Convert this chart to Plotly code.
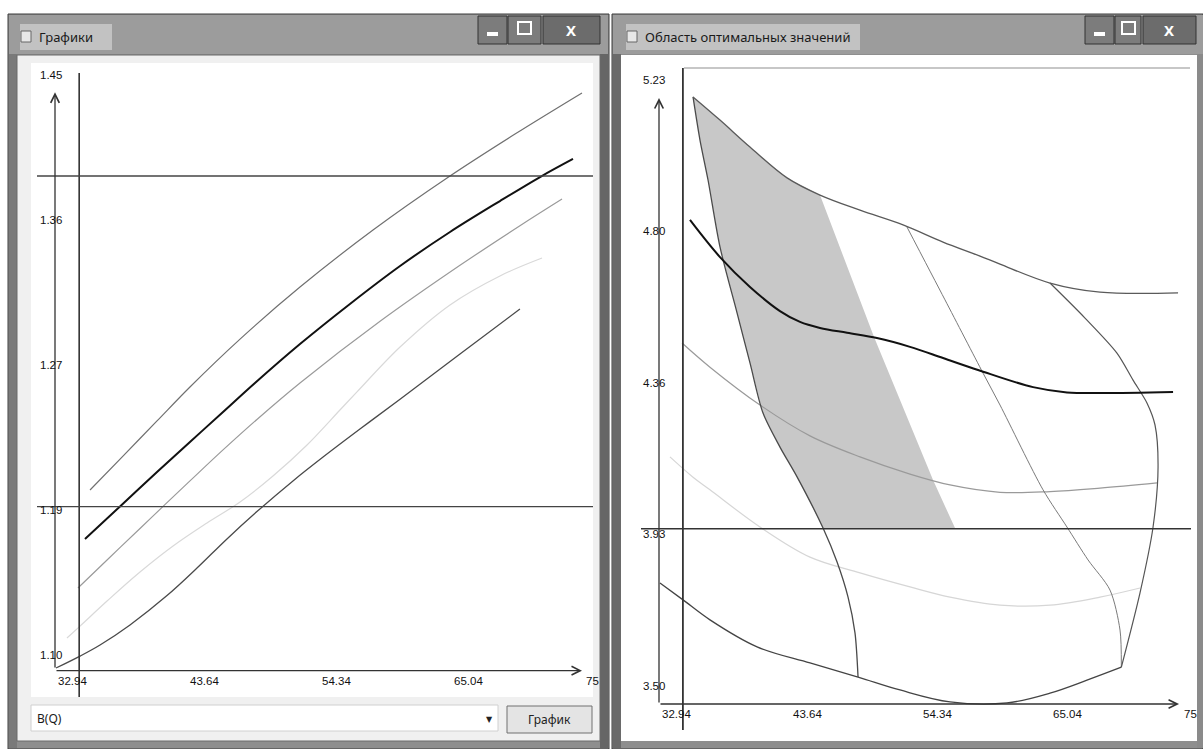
import plotly.graph_objects as go

W, H = 1203, 749

# ---------------- Left chart: B(Q) ----------------
left_x_ticks = [32.94, 43.64, 54.34, 65.04, 75.74]
left_x_text = ["32.94", "43.64", "54.34", "65.04", "75"]
left_y_ticks = [1.10, 1.1875, 1.275, 1.3625, 1.45]
left_y_text = ["1.10", "1.19", "1.27", "1.36", "1.45"]
q_limit = 34.9
left_b_upper = 1.3975
left_b_lower = 1.198

a_q = [35.78, 38.45, 41.21, 43.88, 47.94, 52.80, 58.72, 64.72, 70.23, 75.66]
a_b = [1.208, 1.2285, 1.2497, 1.2702, 1.2991, 1.3305, 1.3649, 1.3963, 1.4228, 1.4476]
b_q = [35.37, 38.21, 41.21, 43.88, 46.56, 49.15, 52.80, 56.85, 60.91, 64.96, 69.01, 72.26, 74.93]
b_b = [1.1785, 1.1981, 1.2189, 1.237, 1.2551, 1.2726, 1.2961, 1.3203, 1.3432, 1.3637, 1.3824, 1.3969, 1.4078]
c_q = [34.80, 37.16, 39.83, 41.70, 43.88, 46.56, 49.31, 52.80, 59.29, 65.77, 70.63, 74.04]
c_b = [1.1489, 1.1658, 1.1848, 1.1981, 1.2135, 1.2322, 1.2506, 1.2726, 1.3098, 1.3436, 1.3675, 1.3836]
d_q = [33.91, 34.97, 37.16, 39.83, 42.51, 45.26, 47.94, 50.61, 53.37, 56.04, 57.42, 60.91, 64.96, 69.01, 72.42]
d_b = [1.1187, 1.1259, 1.141, 1.1585, 1.1742, 1.1881, 1.2008, 1.2165, 1.2352, 1.2563, 1.2672, 1.2943, 1.3197, 1.3372, 1.348]
e_q = [33.02, 34.97, 36.59, 39.02, 42.02, 44.45, 46.88, 49.31, 52.23, 54.67, 57.66, 60.91, 65.77, 70.63]
e_b = [1.1006, 1.1078, 1.1145, 1.1266, 1.1443, 1.1609, 1.1785, 1.195, 1.2135, 1.2279, 1.2448, 1.2628, 1.2901, 1.3172]

# ---------------- Right chart: area of optimal values ----------------
right_x_ticks = [32.94, 43.64, 54.34, 65.04, 75.74]
right_x_text = ["32.94", "43.64", "54.34", "65.04", "75"]
right_y_ticks = [3.50, 3.9325, 4.365, 4.7975, 5.23]
right_y_text = ["3.50", "3.93", "4.36", "4.80", "5.23"]
right_limit = 4.00

r_top_q = [35.73, 37.94, 40.40, 43.44, 46.14, 49.42, 52.95, 56.23, 59.26, 60.90, 65.00, 69.10, 75.50]
r_top_v = [5.232, 5.166, 5.089, 5.001, 4.952, 4.909, 4.867, 4.818, 4.778, 4.755, 4.701, 4.675, 4.673]
r_black_q = [35.48, 37.94, 40.40, 42.86, 44.50, 46.14, 48.36, 50.81, 53.52, 56.23, 59.10, 63.61, 66.39, 69.10, 75.09]
r_black_v = [4.881, 4.775, 4.690, 4.621, 4.590, 4.573, 4.559, 4.544, 4.519, 4.487, 4.453, 4.404, 4.389, 4.387, 4.390]
r_mid_q = [34.83, 37.12, 41.22, 45.32, 49.42, 53.52, 56.80, 60.90, 65.00, 69.10, 73.77]
r_mid_v = [4.530, 4.461, 4.353, 4.265, 4.205, 4.156, 4.125, 4.104, 4.106, 4.116, 4.131]
r_light_q = [33.84, 35.73, 37.12, 41.22, 45.32, 49.42, 53.52, 56.80, 60.90, 65.00, 69.10, 72.38]
r_light_v = [4.205, 4.147, 4.111, 4.005, 3.919, 3.874, 3.834, 3.805, 3.782, 3.782, 3.805, 3.831]
r_bottom_q = [33.02, 34.91, 37.12, 40.98, 45.32, 49.26, 52.70, 56.80, 61.47, 65.00, 68.03, 70.85]
r_bottom_v = [3.845, 3.797, 3.740, 3.663, 3.617, 3.577, 3.540, 3.506, 3.503, 3.531, 3.568, 3.605]

r_left_q = [35.73, 36.30, 36.96, 37.94, 39.34, 40.40, 41.47, 42.86, 44.26, 46.39, 47.54, 48.44, 49.01, 49.26]
r_left_v = [5.232, 5.109, 4.995, 4.804, 4.616, 4.473, 4.330, 4.233, 4.148, 4.002, 3.905, 3.805, 3.703, 3.577]
r_inner_q = [53.27, 56.39, 59.51, 60.90, 64.43, 66.39, 68.12, 69.92, 70.74, 70.85]
r_inner_v = [4.861, 4.653, 4.444, 4.353, 4.111, 4.005, 3.911, 3.825, 3.711, 3.605]
r_right_q = [65.00, 67.87, 70.49, 71.81, 72.95, 73.61, 73.86, 73.45, 72.38, 70.85]
r_right_v = [4.701, 4.601, 4.501, 4.424, 4.359, 4.296, 4.176, 4.005, 3.817, 3.605]

shade_q = [35.73, 37.94, 40.40, 43.44, 46.14, 50.57, 55.41, 57.21, 46.39, 44.26, 42.86, 41.47, 40.40, 39.34, 37.94, 36.96, 36.30, 35.73]
shade_v = [5.232, 5.166, 5.089, 5.001, 4.952, 4.547, 4.139, 4.002, 4.002, 4.148, 4.233, 4.330, 4.473, 4.616, 4.804, 4.995, 5.109, 5.232]

# ---------------- layout geometry (pixels) ----------------
L_PANEL = (31, 63, 593, 697)      # x0, y0, x1, y1
L_ORIGIN = (55, 669)
L_SX, L_SY = 12.336, 1657.1
R_PANEL = (622, 55, 1203, 742)
R_ORIGIN = (659, 704)
R_SX, R_SY = 12.196, 350.5

def P(x):
    return x / W

def Q(y):
    return 1 - y / H

fig = go.Figure()

tick_font = dict(family="Liberation Sans, Arial, sans-serif", size=11.5, color="#111111")

def line_trace(xs, ys, color, width, axes, smooth=1.0):
    fig.add_trace(go.Scatter(x=xs, y=ys, mode="lines", xaxis=axes[0], yaxis=axes[1],
                             line=dict(color=color, width=width, shape="spline", smoothing=smooth),
                             hoverinfo="skip", showlegend=False))

# right shaded area first
fig.add_trace(go.Scatter(x=shade_q, y=shade_v, mode="lines", xaxis="x2", yaxis="y2",
                         fill="toself", fillcolor="#c8c8c8", line=dict(width=0, color="#c8c8c8"),
                         hoverinfo="skip", showlegend=False))

# left curves
L = ("x", "y")
line_trace(a_q, a_b, "#707070", 1.2, L)
line_trace(d_q, d_b, "#d9d9d9", 1.2, L)
line_trace(c_q, c_b, "#9a9a9a", 1.2, L)
line_trace(e_q, e_b, "#4a4a4a", 1.3, L)
line_trace(b_q, b_b, "#111111", 2.0, L)

# right curves
R = ("x2", "y2")
line_trace(r_light_q, r_light_v, "#d6d6d6", 1.2, R)
line_trace(r_mid_q, r_mid_v, "#9a9a9a", 1.2, R)
line_trace(r_inner_q, r_inner_v, "#7a7a7a", 1.0, R, 0.8)
line_trace(r_right_q, r_right_v, "#555555", 1.2, R, 0.8)
line_trace(r_left_q, r_left_v, "#4a4a4a", 1.3, R, 0.8)
line_trace(r_top_q, r_top_v, "#5a5a5a", 1.3, R)
line_trace(r_bottom_q, r_bottom_v, "#444444", 1.3, R)
line_trace(r_black_q, r_black_v, "#111111", 2.0, R)

shapes = []

def rect(x0, y0, x1, y1, fill, line=None, lw=1, layer="below"):
    shapes.append(dict(type="rect", xref="paper", yref="paper", x0=P(x0), x1=P(x1), y0=Q(y1), y1=Q(y0),
                       fillcolor=fill, line=dict(color=line if line else fill, width=lw if line else 0),
                       layer=layer))

# ---- window chrome: left window ----
rect(8, 14, 609, 749, "#8e8e8e", "#3c3c3c")
rect(9, 15, 608, 54, "#9c9c9c")
rect(20, 24, 112, 50, "#c2c2c2")
rect(9, 54, 17, 748, "#7a7a7a")
rect(600, 54, 608, 748, "#666666")
rect(17, 55, 600, 741, "#f0f0f0", "#6a6a6a")
rect(L_PANEL[0], L_PANEL[1], L_PANEL[2], L_PANEL[3], "#ffffff")
rect(31, 705, 498, 731, "#ffffff", "#d0d0d0")
rect(507, 706, 592, 733, "#e4e4e4", "#707070")
rect(21, 31, 31, 42, "#e8e8e8", "#666666")
# left window buttons
rect(478, 16, 507, 44, "#7c7c7c", "#333333")
rect(508, 16, 541, 44, "#7c7c7c", "#333333")
rect(543, 16, 600, 44, "#6c6c6c", "#333333")
rect(487, 32, 498, 36, "#ffffff", layer="above")
rect(518, 22, 531, 34, "rgba(0,0,0,0)", "#ffffff", 2, layer="above")

# ---- window chrome: right window ----
rect(612, 14, 1203, 749, "#8e8e8e", "#3c3c3c")
rect(613, 15, 1203, 54, "#9c9c9c")
rect(626, 24, 860, 50, "#c2c2c2")
rect(613, 54, 621, 748, "#6a6a6a")
rect(1197, 54, 1203, 748, "#8a8a8a")
rect(621, 55, 1197, 741, "#ffffff")
rect(627, 31, 637, 42, "#e8e8e8", "#666666")
rect(1085, 16, 1114, 44, "#7c7c7c", "#333333")
rect(1115, 16, 1141, 44, "#7c7c7c", "#333333")
rect(1143, 16, 1196, 44, "#6c6c6c", "#333333")
rect(1094, 32, 1105, 36, "#ffffff", layer="above")
rect(1122, 22, 1135, 34, "rgba(0,0,0,0)", "#ffffff", 2, layer="above")

# ---- constraint lines (data coordinates) ----
def ldom(py_, y0p, y1p):
    return (y1p - py_) / (y1p - y0p)

shapes.append(dict(type="line", xref="x", yref="y domain", x0=q_limit, x1=q_limit,
                   y0=0, y1=ldom(73, L_PANEL[1], L_PANEL[3]), line=dict(color="#333333", width=1.6), layer="above"))
for v in (left_b_upper, left_b_lower):
    shapes.append(dict(type="line", xref="x domain", yref="y", x0=(37 - L_PANEL[0]) / (L_PANEL[2] - L_PANEL[0]), x1=1,
                       y0=v, y1=v, line=dict(color="#444444", width=1.4), layer="above"))

shapes.append(dict(type="line", xref="x2", yref="y2 domain", x0=q_limit, x1=q_limit,
                   y0=ldom(730, R_PANEL[1], R_PANEL[3]), y1=ldom(68, R_PANEL[1], R_PANEL[3]),
                   line=dict(color="#333333", width=1.8), layer="above"))
shapes.append(dict(type="line", xref="x2 domain", yref="y2",
                   x0=(641 - R_PANEL[0]) / (R_PANEL[2] - R_PANEL[0]), x1=(1191 - R_PANEL[0]) / (R_PANEL[2] - R_PANEL[0]),
                   y0=right_limit, y1=right_limit, line=dict(color="#333333", width=1.6), layer="above"))
shapes.append(dict(type="line", xref="x2 domain", yref="y2 domain",
                   x0=(684 - R_PANEL[0]) / (R_PANEL[2] - R_PANEL[0]), x1=(1190 - R_PANEL[0]) / (R_PANEL[2] - R_PANEL[0]),
                   y0=ldom(68, R_PANEL[1], R_PANEL[3]), y1=ldom(68, R_PANEL[1], R_PANEL[3]),
                   line=dict(color="#b5b5b5", width=1.4), layer="above"))

annotations = []

def arrow(xa, ya, x, y, xr, yr):
    annotations.append(dict(x=x, y=y, xref=xr, yref=yr, ax=xa, ay=ya, axref=xr, ayref=yr, text="",
                            showarrow=True, arrowhead=5, arrowsize=1.3, arrowwidth=1.3, arrowcolor="#333333"))

# axes arrows
arrow(left_x_ticks[0], left_y_ticks[0], left_x_ticks[0], 1.448, "x", "y")
arrow(left_x_ticks[0], 1.099, 75.66, 1.099, "x", "y")
arrow(right_x_ticks[0], right_y_ticks[0], right_x_ticks[0], 5.229, "x2", "y2")
arrow(right_x_ticks[0], right_y_ticks[0], 75.58, right_y_ticks[0], "x2", "y2")

# tick labels
for v, t in zip(left_y_ticks, left_y_text):
    annotations.append(dict(x=left_x_ticks[0], y=v, xref="x", yref="y", text=t, showarrow=False,
                            xanchor="center", yanchor="middle", xshift=-4, yshift=14, font=tick_font))
for v, t in zip(left_x_ticks, left_x_text):
    annotations.append(dict(x=v, y=left_y_ticks[0], xref="x", yref="y", text=t, showarrow=False,
                            xanchor="left", yanchor="middle", xshift=1, yshift=-12, font=tick_font))
for v, t in zip(right_y_ticks, right_y_text):
    annotations.append(dict(x=right_x_ticks[0], y=v, xref="x2", yref="y2", text=t, showarrow=False,
                            xanchor="center", yanchor="middle", xshift=-5, yshift=18, font=tick_font))
for v, t in zip(right_x_ticks, right_x_text):
    annotations.append(dict(x=v, y=right_y_ticks[0], xref="x2", yref="y2", text=t, showarrow=False,
                            xanchor="left", yanchor="middle", xshift=1, yshift=-10, font=tick_font))

ui_font = dict(family="Noto Sans, DejaVu Sans, sans-serif", size=12, color="#1a1a1a")

def text(x, y, s, size=12, color="#1a1a1a", anchor="left", bold=False):
    f = dict(ui_font)
    f.update(size=size, color=color)
    annotations.append(dict(x=P(x), y=Q(y), xref="paper", yref="paper", text=("<b>%s</b>" % s) if bold else s,
                            showarrow=False, xanchor=anchor, yanchor="middle", font=f))

text(37, 37, "Графики", 13)
text(643, 37, "Область оптимальных значений", 13)
text(571, 30, "X", 15, "#ffffff", "center", True)
text(1169, 30, "X", 15, "#ffffff", "center", True)
text(35, 718, "B(Q)", 12)
text(489, 718, "▼", 8, "#222222", "center")
text(549, 719, "График", 12, "#222222", "center")

fig.update_layout(
    width=W, height=H, margin=dict(l=0, r=0, t=0, b=0),
    paper_bgcolor="#ffffff", plot_bgcolor="rgba(0,0,0,0)", showlegend=False,
    xaxis=dict(domain=[P(L_PANEL[0]), P(L_PANEL[2])],
               range=[left_x_ticks[0] - (L_ORIGIN[0] - L_PANEL[0]) / L_SX,
                      left_x_ticks[0] + (L_PANEL[2] - L_ORIGIN[0]) / L_SX],
               visible=False, fixedrange=True, anchor="y"),
    yaxis=dict(domain=[Q(L_PANEL[3]), Q(L_PANEL[1])],
               range=[left_y_ticks[0] - (L_PANEL[3] - L_ORIGIN[1]) / L_SY,
                      left_y_ticks[0] + (L_ORIGIN[1] - L_PANEL[1]) / L_SY],
               visible=False, fixedrange=True, anchor="x"),
    xaxis2=dict(domain=[P(R_PANEL[0]), P(R_PANEL[2])],
                range=[right_x_ticks[0] - (R_ORIGIN[0] - R_PANEL[0]) / R_SX,
                       right_x_ticks[0] + (R_PANEL[2] - R_ORIGIN[0]) / R_SX],
                visible=False, fixedrange=True, anchor="y2"),
    yaxis2=dict(domain=[Q(R_PANEL[3]), Q(R_PANEL[1])],
                range=[right_y_ticks[0] - (R_PANEL[3] - R_ORIGIN[1]) / R_SY,
                       right_y_ticks[0] + (R_ORIGIN[1] - R_PANEL[1]) / R_SY],
                visible=False, fixedrange=True, anchor="x2"),
    shapes=shapes, annotations=annotations,
)

fig.write_html("out.html", config=dict(displayModeBar=False),
               post_script="document.body.style.margin='0px';document.body.style.overflow='hidden';")
